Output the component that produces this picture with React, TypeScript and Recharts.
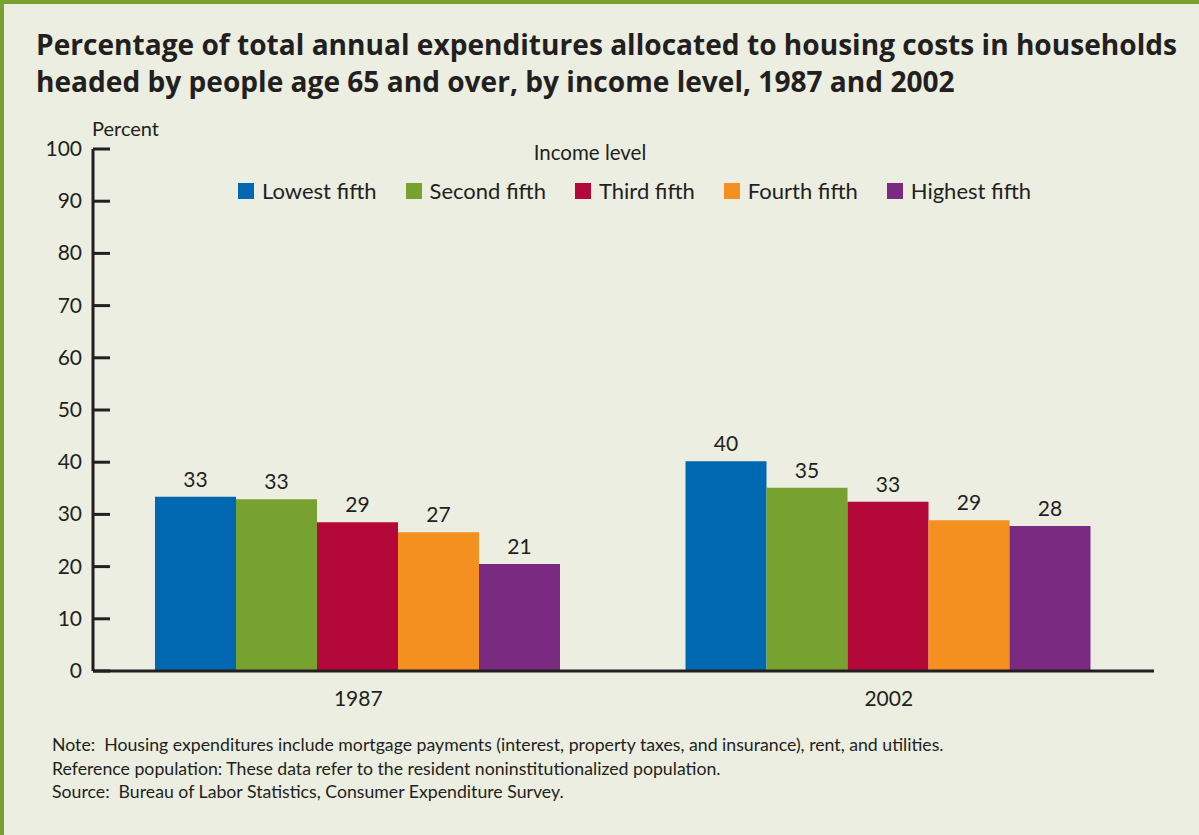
import React from 'react';
import { BarChart, Bar, XAxis, YAxis, LabelList } from 'recharts';

const categories = ['1987', '2002'];
const seriesNames = ['Lowest fifth', 'Second fifth', 'Third fifth', 'Fourth fifth', 'Highest fifth'];
const seriesKeys = ['lowest', 'second', 'third', 'fourth', 'highest'];
const seriesColors = ['#0067b1', '#78a22f', '#b5083a', '#f3901f', '#7b2a82'];
const lowestValues = [33.4, 40.2];
const secondValues = [32.9, 35.1];
const thirdValues = [28.5, 32.4];
const fourthValues = [26.6, 28.9];
const highestValues = [20.5, 27.8];
const lowestLabels = ['33', '40'];
const secondLabels = ['33', '35'];
const thirdLabels = ['29', '33'];
const fourthLabels = ['27', '29'];
const highestLabels = ['21', '28'];
const yTicks = [0, 10, 20, 30, 40, 50, 60, 70, 80, 90, 100];

const titleLines = [
  'Percentage of total annual expenditures allocated to housing costs in households',
  'headed by people age 65 and over, by income level, 1987 and 2002',
];
const noteLines = [
  'Note:  Housing expenditures include mortgage payments (interest, property taxes, and insurance), rent, and utilities.',
  'Reference population: These data refer to the resident noninstitutionalized population.',
  'Source:  Bureau of Labor Statistics, Consumer Expenditure Survey.',
];

const allValues = [lowestValues, secondValues, thirdValues, fourthValues, highestValues];
const allLabels = [lowestLabels, secondLabels, thirdLabels, fourthLabels, highestLabels];

const data = categories.map((c, i) => {
  const row: Record<string, string | number> = { year: c };
  seriesKeys.forEach((k, s) => {
    row[k] = allValues[s][i];
    row[k + 'Label'] = allLabels[s][i];
  });
  return row;
});

const FONT = 'Lato, "Open Sans", sans-serif';
const TITLE_FONT = '"Open Sans", Lato, sans-serif';
const INK = '#231f20';
const BG = '#ebeee0';
const BORDER = '#78a22f';

const YTick = (props: any) => {
  const { x, y, payload } = props;
  return (
    <g>
      <line x1={x + 11} x2={x + 28} y1={y} y2={y} stroke={INK} strokeWidth={3} />
      <text x={x} y={y} dy={7} textAnchor="end" fill={INK} fontSize={21} fontFamily={FONT}>
        {payload.value}
      </text>
    </g>
  );
};

export default function App() {
  return (
    <div
      style={{
        position: 'absolute',
        left: 0,
        top: 0,
        width: 1199,
        height: 835,
        background: BG,
        overflow: 'hidden',
      }}
    >
      <div style={{ position: 'absolute', left: 0, top: 0, width: 1199, height: 4, background: BORDER }} />
      <div style={{ position: 'absolute', left: 0, top: 0, width: 4, height: 835, background: BORDER }} />
      <div
        style={{
          position: 'absolute',
          left: 36,
          top: 26,
          fontFamily: TITLE_FONT,
          fontWeight: 700,
          fontSize: 28.1,
          lineHeight: '37px',
          color: INK,
          whiteSpace: 'nowrap',
        }}
      >
        {titleLines.map((t) => (
          <div key={t}>{t}</div>
        ))}
      </div>
      <div
        style={{
          position: 'absolute',
          left: 92,
          top: 116,
          fontFamily: FONT,
          fontSize: 20,
          color: INK,
        }}
      >
        Percent
      </div>
      <div style={{ position: 'absolute', left: 0, top: 0 }}>
        <BarChart
          width={1199}
          height={835}
          data={data}
          margin={{ top: 149, right: 45, bottom: 124, left: 0 }}
          barCategoryGap={62}
          barGap={0}
          style={{ fontFamily: FONT }}
        >
          <XAxis
            dataKey="year"
            height={40}
            axisLine={{ stroke: INK, strokeWidth: 3 }}
            tickLine={false}
            tick={{ fill: INK, fontSize: 21, fontFamily: FONT }}
            tickMargin={14}
          />
          <YAxis
            width={93}
            domain={[0, 100]}
            ticks={yTicks}
            interval={0}
            axisLine={{ stroke: INK, strokeWidth: 3 }}
            tickLine={false}
            tickSize={0}
            tickMargin={11}
            tick={<YTick />}
          />
          {seriesKeys.map((k, i) => (
            <Bar key={k} dataKey={k} name={seriesNames[i]} fill={seriesColors[i]} isAnimationActive={false}>
              <LabelList
                dataKey={k + 'Label'}
                position="top"
                offset={10}
                fill={INK}
                fontSize={21}
                fontFamily={FONT}
              />
            </Bar>
          ))}
        </BarChart>
      </div>
      <div style={{ position: 'absolute', left: 0, top: 140, width: 1180, fontFamily: FONT, color: INK }}>
        <div style={{ textAlign: 'center', fontSize: 20.5 }}>Income level</div>
      </div>
      <div
        style={{
          position: 'absolute',
          left: 238,
          top: 177,
          display: 'flex',
          alignItems: 'center',
          fontFamily: FONT,
          color: INK,
        }}
      >
        {seriesNames.map((n, i) => (
          <div key={n} style={{ display: 'flex', alignItems: 'center', marginRight: 29 }}>
            <div style={{ width: 16, height: 16, background: seriesColors[i], marginRight: 8 }} />
            <span style={{ fontSize: 22 }}>{n}</span>
          </div>
        ))}
      </div>
      <div
        style={{
          position: 'absolute',
          left: 52,
          top: 733,
          fontFamily: FONT,
          fontSize: 17.7,
          lineHeight: '23.5px',
          color: INK,
          whiteSpace: 'pre',
        }}
      >
        {noteLines.map((t) => (
          <div key={t}>{t}</div>
        ))}
      </div>
    </div>
  );
}
